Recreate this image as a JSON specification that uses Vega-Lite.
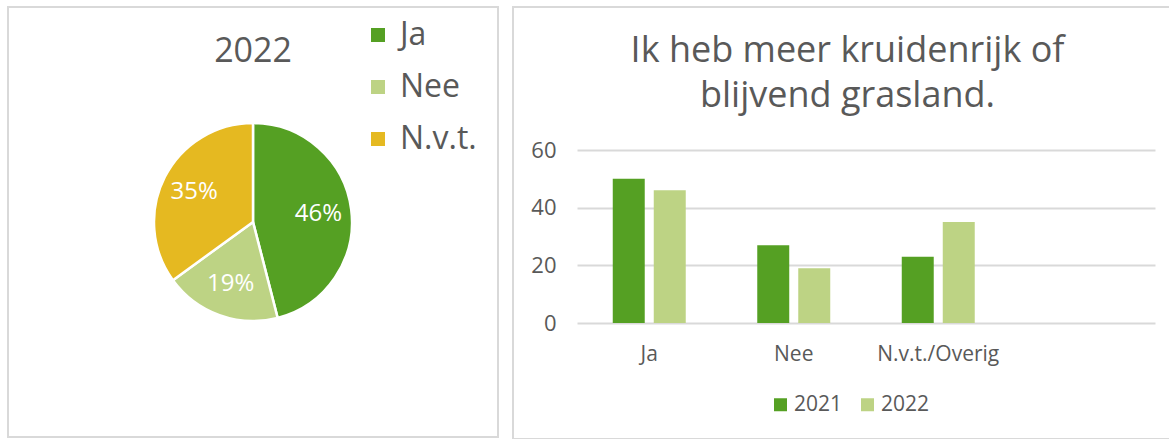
{
  "$schema": "https://vega.github.io/schema/vega-lite/v6.json",
  "padding": {"left": 7, "top": 6, "right": 0, "bottom": 0},
  "spacing": 13,
  "config": {
    "font": "Open Sans",
    "view": {"stroke": "#d9d9d9", "strokeWidth": 2},
    "axis": {"labelColor": "#595959", "labelFont": "Open Sans"},
    "legend": {"labelColor": "#595959", "labelFont": "Open Sans"}
  },
  "resolve": {"scale": {"color": "independent"}, "legend": {"color": "independent"}},
  "hconcat": [
    {
      "width": 490,
      "height": 430,
      "view": {"stroke": "#d9d9d9", "strokeWidth": 2},
      "title": {"text": "2022", "offset": -89, "baseline": "alphabetic", "fontSize": 34, "fontWeight": "normal", "color": "#595959", "anchor": "middle"},
      "data": {"values": [
        {"antwoord": "Ja", "aandeel": 0.46, "i": 1},
        {"antwoord": "Nee", "aandeel": 0.19, "i": 2},
        {"antwoord": "N.v.t.", "aandeel": 0.35, "i": 3}
      ]},
      "encoding": {
        "theta": {"field": "aandeel", "type": "quantitative", "stack": true},
        "order": {"field": "i", "type": "quantitative"}
      },
      "layer": [
        {
          "mark": {"type": "arc", "outerRadius": 99, "stroke": "white", "strokeWidth": 2.5},
          "encoding": {
            "color": {
              "field": "antwoord", "type": "nominal",
              "scale": {"domain": ["Ja", "Nee", "N.v.t."], "range": ["#55A023", "#BDD384", "#E5B921"]},
              "legend": {
                "title": null, "orient": "none", "legendX": 354, "legendY": 12,
                "symbolType": "square", "symbolSize": 196, "symbolStrokeWidth": 0,
                "labelFontSize": 32, "labelOffset": 6, "rowPadding": 20, "padding": 0
              }
            }
          }
        },
        {
          "mark": {"type": "text", "radius": 66, "fontSize": 24, "color": "white"},
          "encoding": {
            "text": {"field": "aandeel", "type": "quantitative", "format": ".0%"}
          }
        }
      ]
    },
    {
      "width": 657,
      "height": 432,
      "title": {
        "text": ["Ik heb meer kruidenrijk of", "blijvend grasland."],
        "offset": -136, "baseline": "alphabetic", "fontSize": 36, "lineHeight": 45,
        "fontWeight": "normal", "color": "#595959", "anchor": "middle", "dx": 6
      },
      "data": {"values": [
        {"categorie": "Ja", "jaar": "2021", "waarde": 50},
        {"categorie": "Ja", "jaar": "2022", "waarde": 46},
        {"categorie": "Nee", "jaar": "2021", "waarde": 27},
        {"categorie": "Nee", "jaar": "2022", "waarde": 19},
        {"categorie": "N.v.t./Overig", "jaar": "2021", "waarde": 23},
        {"categorie": "N.v.t./Overig", "jaar": "2022", "waarde": 35}
      ]},
      "mark": {"type": "bar"},
      "encoding": {
        "x": {
          "field": "categorie", "type": "nominal",
          "scale": {"domain": ["Ja", "Nee", "N.v.t./Overig", " "], "range": [64, 642], "paddingInner": 0, "paddingOuter": 0},
          "axis": {"title": null, "labelAngle": 0, "ticks": false, "tickSize": 0, "domain": false, "labelPadding": 0, "offset": -96, "labelFontSize": 21, "grid": false}
        },
        "xOffset": {
          "field": "jaar", "type": "nominal",
          "scale": {"paddingInner": 0.22, "paddingOuter": 0.872}
        },
        "y": {
          "field": "waarde", "type": "quantitative",
          "scale": {"domain": [0, 60], "range": [316, 143], "nice": false},
          "axis": {"title": null, "values": [0, 20, 40, 60], "ticks": false, "tickSize": 0, "domain": false, "labelPadding": 0, "offset": -43, "labelFontSize": 22, "grid": true, "gridColor": "#d9d9d9", "gridWidth": 2}
        },
        "color": {
          "field": "jaar", "type": "nominal",
          "scale": {"domain": ["2021", "2022"], "range": ["#55A023", "#BDD384"]},
          "legend": {
            "title": null, "orient": "none", "direction": "horizontal", "legendX": 257, "legendY": 387,
            "symbolType": "square", "symbolSize": 169, "symbolStrokeWidth": 0,
            "labelFontSize": 21, "labelOffset": 3, "columnPadding": 14, "padding": 0
          }
        }
      }
    }
  ]
}
